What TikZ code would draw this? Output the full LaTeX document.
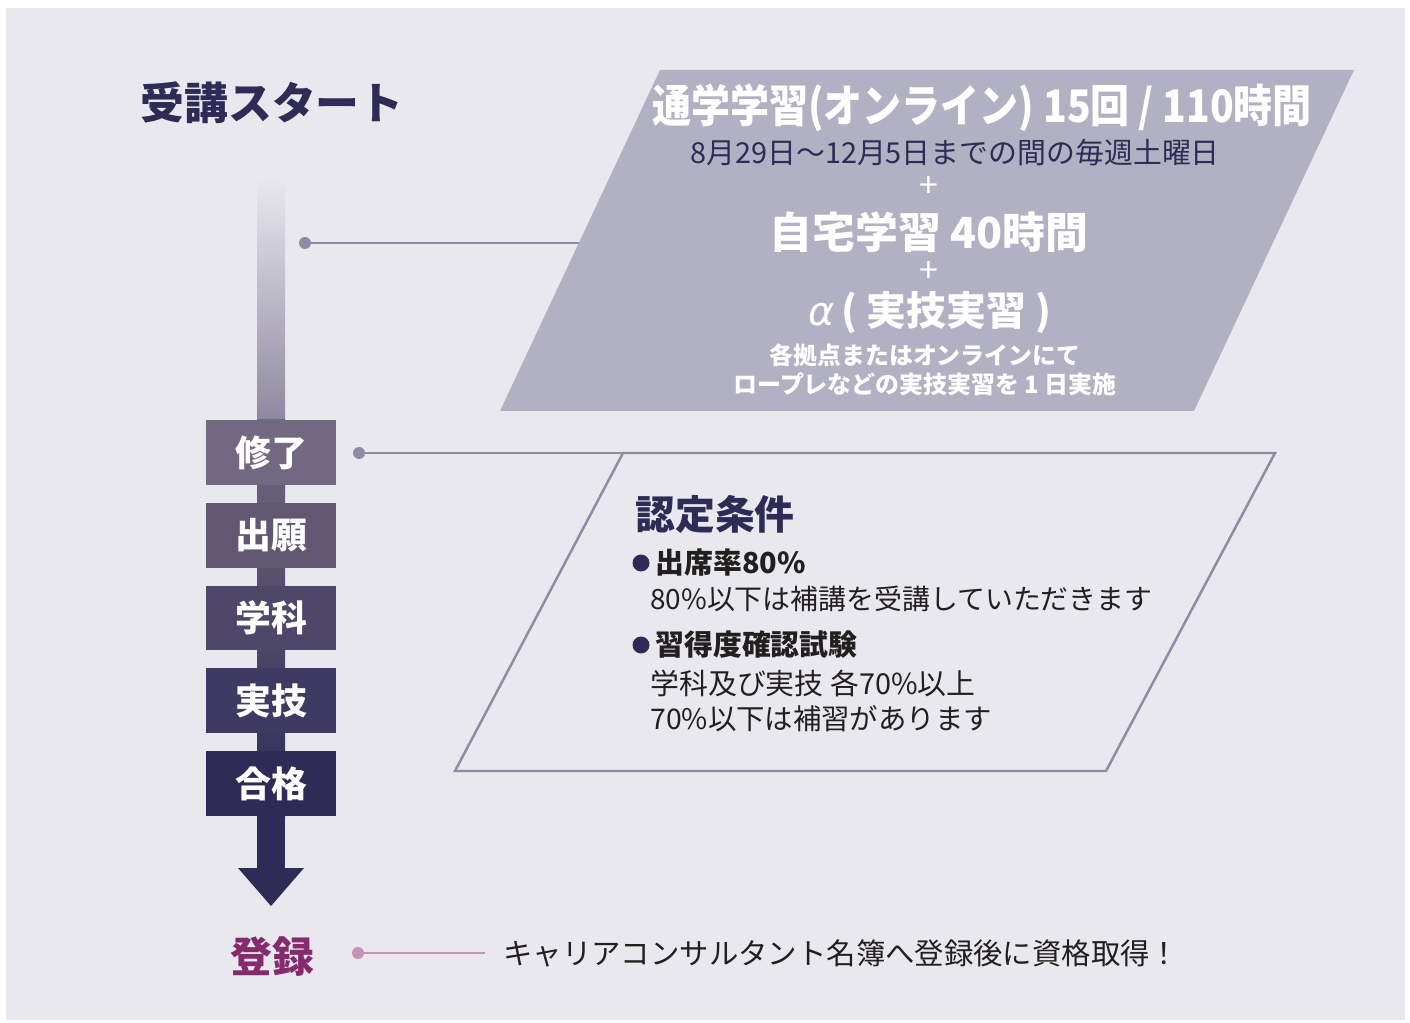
\documentclass[tikz,border=0pt]{standalone}
\usepackage{fontspec}
\usepackage{graphicx}
\setmainfont{Noto Sans CJK JP}
\newfontfamily\greekfont{DejaVu Sans}
\definecolor{bgc}{HTML}{E9E8EE}
\definecolor{navyc}{HTML}{2E2B56}
\definecolor{barc}{HTML}{8E889F}
\definecolor{parac}{HTML}{B2B0C3}
\definecolor{linec}{HTML}{8E8CA3}
\definecolor{pinkc}{HTML}{C493B5}
\definecolor{magc}{HTML}{862A6E}
\definecolor{textc}{HTML}{231F20}
\definecolor{boxa}{HTML}{736882}
\definecolor{boxb}{HTML}{615773}
\definecolor{boxc}{HTML}{4E4769}
\definecolor{boxd}{HTML}{3E3A62}
\definecolor{boxe}{HTML}{2E2B56}
\newcommand\px[1]{\fontsize{\dimexpr#1pt*567/1000\relax}{\dimexpr#1pt*680/1000\relax}\selectfont}
\newcommand\squeeze[2]{\scalebox{#1}[1]{#2}}
\tikzset{
  stepbox/.style={minimum width=2.6cm, minimum height=1.3cm, inner sep=0pt,
    text=white, font=\px{36}\bfseries},
  dot/.style={circle, inner sep=0pt, minimum size=0.24cm, fill=linec},
  bullet/.style={circle, inner sep=0pt, minimum size=0.34cm, fill=navyc},
  link/.style={linec, line width=1.4pt},
  wtext/.style={text=white, inner sep=0pt},
  btext/.style={text=textc, inner sep=0pt, anchor=west},
}
\begin{document}
\begin{tikzpicture}[x=0.02cm, y=-0.02cm]
  \useasboundingbox (0,0) rectangle (1410,1023);
  \fill[white] (0,0) rectangle (1410,1023);
  \fill[bgc] (6,8) rectangle (1405,1020);

  \node[text=navyc, font=\px{44}\bfseries] (start) at (272,103) {受講スタート};

  \shade[top color=bgc, bottom color=barc] (257,178) rectangle (285,421);
  \shade[top color=boxa, bottom color=navyc] (257,420) rectangle (285,817);
  \fill[navyc] (257,816) rectangle (285,869);
  \fill[navyc] (238,868) -- (304,868) -- (271,906) -- cycle;

  \node[stepbox, fill=boxa] (shuryo) at (271,452.5) {修了};
  \node[stepbox, fill=boxb] (shutsugan) at (271,535.5) {出願};
  \node[stepbox, fill=boxc] (gakka) at (271,618) {学科};
  \node[stepbox, fill=boxd] (jitsugi) at (271,700.5) {実技};
  \node[stepbox, fill=boxe] (gokaku) at (271,783.5) {合格};

  \fill[parac] (660,70) -- (1354,70) -- (1194,411) -- (500,411) -- cycle;
  \coordinate (para1) at (579,243);
  \node[dot] (d1) at (305,243) {};
  \draw[link] (d1.center) -- (para1);
  \node[wtext, font=\px{45}\bfseries] (tsugaku) at (982,108)
    {\squeeze{0.87}{通学学習(オンライン) 15回 / 110時間}};
  \node[text=navyc, inner sep=0pt, font=\px{29}] (dates) at (955,153)
    {8月29日～12月5日までの間の毎週土曜日};
  \node[wtext, font=\px{34}] (plus1) at (929,187) {+};
  \node[wtext, font=\px{43}\bfseries] (jitaku) at (929,232) {自宅学習 40時間};
  \node[wtext, font=\px{34}] (plus2) at (929,272) {+};
  \node[wtext, font=\px{40}\bfseries] (alpha) at (930,313)
    {{\greekfont\itshape\mdseries α}\,( 実技実習 )};
  \node[wtext, font=\px{24}\bfseries] (kyoten) at (925,355) {各拠点またはオンラインにて};
  \node[wtext, font=\px{24}\bfseries] (ropure) at (925,384) {ロープレなどの実技実習を 1 日実施};

  \draw[link] (455,771) -- (623,453) -- (1275,453) -- (1106,771) -- cycle;
  \coordinate (para2) at (623,453);
  \node[dot] (d2) at (359,453) {};
  \draw[link] (d2.center) -- (para2);
  \node[text=navyc, inner sep=0pt, anchor=west, font=\px{40}\bfseries] (nintei) at (635,514) {認定条件};
  \node[bullet] (b1) at (641,563) {};
  \node[btext, font=\px{29}\bfseries] (shusseki) at (655,563) {出席率80\%};
  \node[btext, font=\px{28}] (hoko) at (650,599) {80\%以下は補講を受講していただきます};
  \node[bullet] (b2) at (641,645) {};
  \node[btext, font=\px{29}\bfseries] (shutoku) at (655,645) {習得度確認試験};
  \node[btext, font=\px{29}] (kakkou) at (650,683) {学科及び実技 各70\%以上};
  \node[btext, font=\px{28.5}] (hoshu) at (650,719) {70\%以下は補習があります};

  \node[text=magc, font=\px{42}\bfseries] (toroku) at (272,957) {登録};
  \node[dot, fill=pinkc] (d3) at (358,953) {};
  \coordinate (d3end) at (485,953);
  \draw[pinkc, line width=1.4pt] (d3.center) -- (d3end);
  \node[btext, font=\px{29.5}] (goal) at (503,953) {キャリアコンサルタント名簿へ登録後に資格取得！};
\end{tikzpicture}
\end{document}
